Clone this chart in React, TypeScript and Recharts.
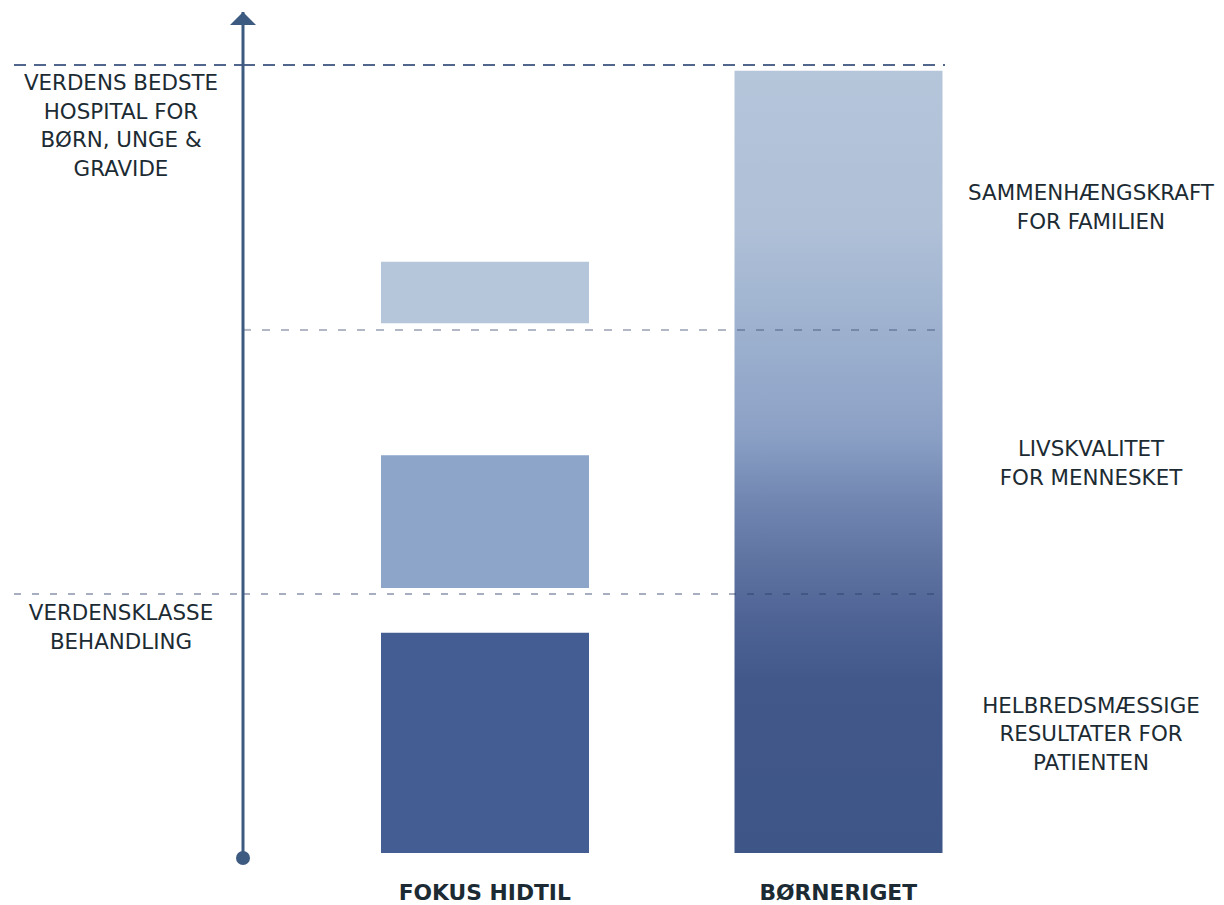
import { BarChart, Bar, XAxis, YAxis, ReferenceLine } from "recharts";

const CATEGORIES = ["FOKUS HIDTIL", "BØRNERIGET"];
// [bund, top] for hver blok, skala 0-100 (100 = pilens spids)
const HELBRED = [[0, 26.2], [0, 0]];
const LIVSKVALITET = [[31.5, 47.3], [0, 0]];
const SAMMENHAENG = [[63.0, 70.3], [0, 0]];
const BORNERIGET = [[0, 0], [0, 93.0]];

// stiplede niveaulinjer
const TOP_LEVEL = 93.7;
const MID_LEVEL = 62.2;
const LOW_LEVEL = 30.8;

const LEFT_TICKS = [TOP_LEVEL, LOW_LEVEL];
const LEFT_LABELS = [
  ["VERDENS BEDSTE", "HOSPITAL FOR", "BØRN, UNGE &", "GRAVIDE"],
  ["VERDENSKLASSE", "BEHANDLING"],
];
const RIGHT_TICKS = [76.8, 46.4, 14.2];
const RIGHT_LABELS = [
  ["SAMMENHÆNGSKRAFT", "FOR FAMILIEN"],
  ["LIVSKVALITET", "FOR MENNESKET"],
  ["HELBREDSMÆSSIGE", "RESULTATER FOR", "PATIENTEN"],
];

const AXIS = "#3d5a80";
const TEXT = "#1c2b33";
const LINE_H = 28.5;
const FONT = 21.4;

const data = CATEGORIES.map((name, i) => ({
  name,
  samlet: BORNERIGET[i][1] - BORNERIGET[i][0],
  helbred: HELBRED[i][1] - HELBRED[i][0],
  gap1: Math.max(0, LIVSKVALITET[i][0] - HELBRED[i][1]),
  livskvalitet: LIVSKVALITET[i][1] - LIVSKVALITET[i][0],
  gap2: Math.max(0, SAMMENHAENG[i][0] - LIVSKVALITET[i][1]),
  sammenhaeng: SAMMENHAENG[i][1] - SAMMENHAENG[i][0],
}));

function LeftTick(props: any) {
  const { x, y, payload } = props;
  const v = payload.value;
  if (v === 100) {
    return <path d={`M${x} ${y} L${x + 13} ${y + 13} L${x - 13} ${y + 13} Z`} fill={AXIS} />;
  }
  if (v === 0) {
    return <circle cx={x} cy={y + 5} r={7} fill={AXIS} />;
  }
  const idx = LEFT_TICKS.indexOf(v);
  if (idx < 0) return null;
  const top = idx === 0;
  return (
    <g>
      <line
        x1={x - 229}
        x2={x}
        y1={y}
        y2={y}
        stroke={top ? "#3e5580" : "#283c64"}
        strokeOpacity={top ? 0.9 : 0.55}
        strokeWidth={top ? 2 : 1.5}
        strokeDasharray={top ? "12 8" : "7 11"}
      />
      {LEFT_LABELS[idx].map((t, k) => (
        <text
          key={k}
          x={x - 122}
          y={y + (top ? 25.5 : 26.5) + k * LINE_H}
          textAnchor="middle"
          fill={TEXT}
          fontSize={FONT}
        >
          {t}
        </text>
      ))}
    </g>
  );
}

function RightTick(props: any) {
  const { x, y, payload } = props;
  const idx = RIGHT_TICKS.indexOf(payload.value);
  if (idx < 0) return null;
  const lines = RIGHT_LABELS[idx];
  return (
    <g>
      {lines.map((t, k) => (
        <text
          key={k}
          x={x + 146}
          y={y + 7.5 + (k - (lines.length - 1) / 2) * LINE_H}
          textAnchor="middle"
          fill={TEXT}
          fontSize={FONT}
        >
          {t}
        </text>
      ))}
    </g>
  );
}

function CategoryTick(props: any) {
  const { x, y, payload } = props;
  return (
    <text x={x} y={y + 47} textAnchor="middle" fill={TEXT} fontSize={21.8} fontWeight={700}>
      {payload.value}
    </text>
  );
}

export default function App() {
  return (
    <div style={{ position: "absolute", left: 0, top: 0, width: 1224, height: 905, background: "#fff", fontFamily: "'DejaVu Sans', sans-serif" }}>
      <BarChart width={1224} height={905} data={data} margin={{ top: 12, right: 0, bottom: 0, left: 14 }}>
        <defs>
          <linearGradient id="borneriget" x1="0" y1="0" x2="0" y2="1">
            <stop offset="0" stopColor="#b5c5da" />
            <stop offset="0.2" stopColor="#afc0d7" />
            <stop offset="0.395" stopColor="#95aacb" />
            <stop offset="0.47" stopColor="#8a9fc4" />
            <stop offset="0.55" stopColor="#7186b1" />
            <stop offset="0.625" stopColor="#6074a2" />
            <stop offset="0.7" stopColor="#4f6495" />
            <stop offset="0.78" stopColor="#42588b" />
            <stop offset="1" stopColor="#3e5587" />
          </linearGradient>
        </defs>
        <XAxis
          dataKey="name"
          height={52}
          axisLine={false}
          tickLine={false}
          tickSize={0}
          tickMargin={0}
          padding={{ left: 65, right: -70 }}
          tick={<CategoryTick />}
          interval={0}
        />
        <YAxis
          yAxisId="left"
          type="number"
          domain={[0, 100]}
          allowDataOverflow
          width={229}
          ticks={[0, LOW_LEVEL, TOP_LEVEL, 100]}
          interval={0}
          tickLine={false}
          tickSize={0}
          tickMargin={0}
          axisLine={{ stroke: AXIS, strokeWidth: 3 }}
          tick={<LeftTick />}
        />
        <YAxis
          yAxisId="right"
          orientation="right"
          type="number"
          domain={[0, 100]}
          allowDataOverflow
          width={279}
          ticks={RIGHT_TICKS}
          interval={0}
          tickLine={false}
          tickSize={0}
          tickMargin={0}
          axisLine={false}
          tick={<RightTick />}
        />
        <Bar yAxisId="left" dataKey="samlet" stackId="a" barSize={208} fill="url(#borneriget)" isAnimationActive={false} />
        <Bar yAxisId="left" dataKey="helbred" stackId="a" barSize={208} fill="#445d93" isAnimationActive={false} />
        <Bar yAxisId="left" dataKey="gap1" stackId="a" barSize={208} fill="transparent" isAnimationActive={false} />
        <Bar yAxisId="left" dataKey="livskvalitet" stackId="a" barSize={208} fill="#8da5c8" isAnimationActive={false} />
        <Bar yAxisId="left" dataKey="gap2" stackId="a" barSize={208} fill="transparent" isAnimationActive={false} />
        <Bar yAxisId="left" dataKey="sammenhaeng" stackId="a" barSize={208} fill="#b5c5da" isAnimationActive={false} />
        <ReferenceLine yAxisId="left" y={TOP_LEVEL} stroke="#3e5580" strokeOpacity={0.9} strokeWidth={2} strokeDasharray="12 8" />
        <ReferenceLine yAxisId="left" y={MID_LEVEL} stroke="#3c4b6e" strokeOpacity={0.4} strokeWidth={2} strokeDasharray="8 11" />
        <ReferenceLine yAxisId="left" y={LOW_LEVEL} stroke="#283c64" strokeOpacity={0.55} strokeWidth={1.5} strokeDasharray="7 11" />
      </BarChart>
    </div>
  );
}
